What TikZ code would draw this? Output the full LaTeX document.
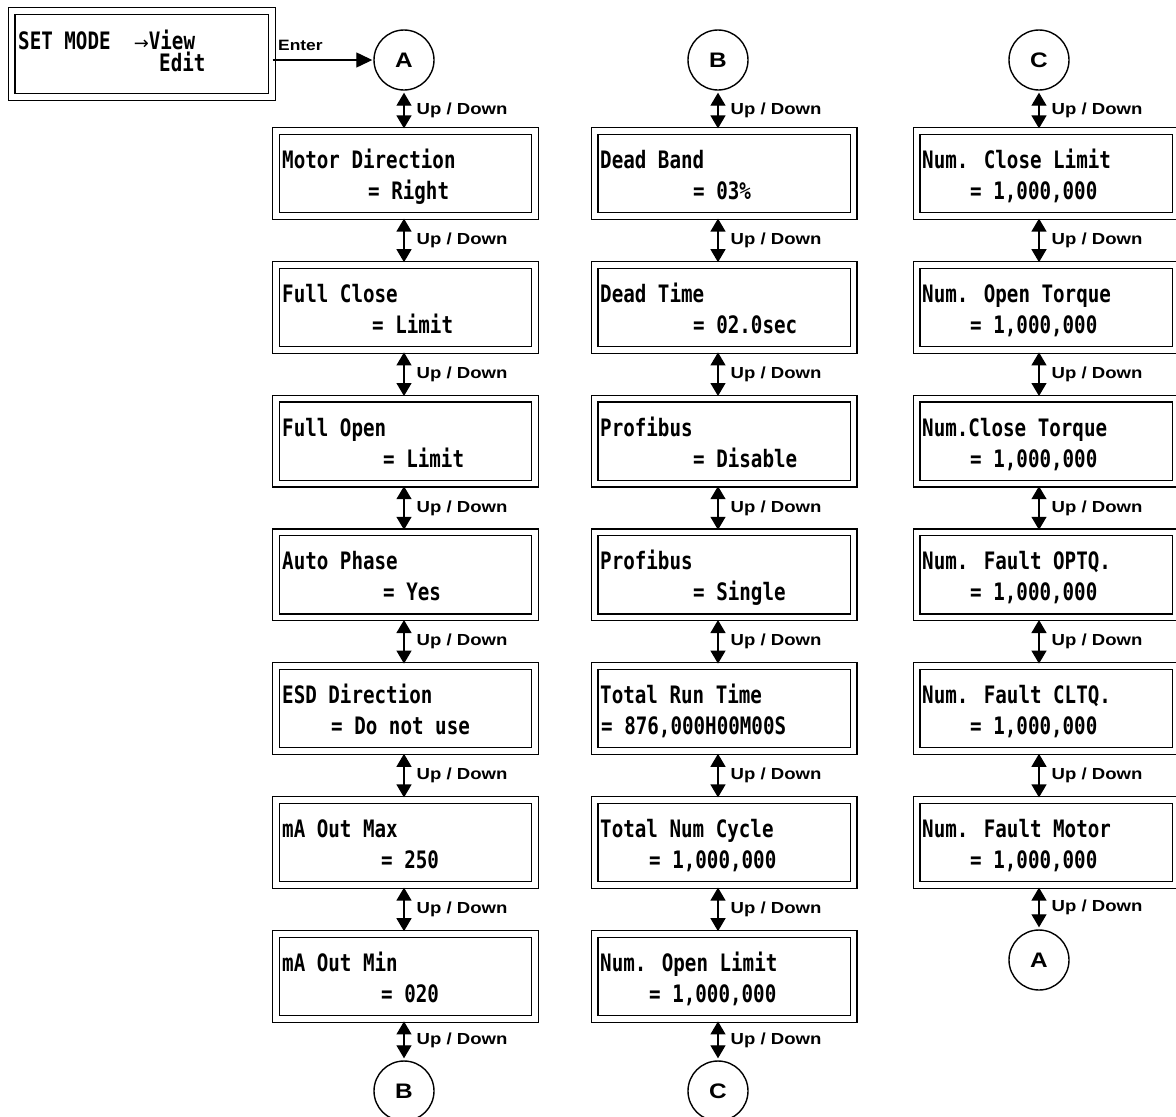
\documentclass[tikz,border=0pt]{standalone}
\usepackage{fontspec}
\usetikzlibrary{arrows.meta}
\newfontfamily\lcdfont[FakeStretch=0.80]{DejaVu Sans Mono}
\newfontfamily\arrfont{DejaVu Sans}
\newfontfamily\lblfont[FakeStretch=1.16]{Liberation Sans}
\tikzset{
  lcdbox/.style={draw, double, double distance=5.6pt, line width=1.2pt,
    minimum width=259pt, minimum height=85pt, inner sep=0pt},
  lcdtext/.style={anchor=base west, inner sep=0pt,
    font=\lcdfont\bfseries\fontsize{24}{24}\selectfont},
  circ/.style={draw, circle, line width=1.4pt, minimum size=60pt, inner sep=0pt,
    font=\lblfont\bfseries\fontsize{21}{21}\selectfont},
  udarrow/.style={line width=1.3pt,
    arrows={Triangle[width=15pt,length=13pt]-Triangle[width=15pt,length=13pt]},
    shorten <=2pt, shorten >=2pt},
  udlabel/.style={anchor=west, inner sep=0pt, xshift=12pt,
    font=\lblfont\bfseries\fontsize{16}{16}\selectfont},
}
\newcommand\lcdpanel[7]{%
  \node[lcdbox] (#1) at (#2,#3) {};
  \node[lcdtext] (#1-a) at (#4,#3-5) {#5};
  \node[lcdtext] (#1-b) at (#6,#3+26) {#7};
}
\begin{document}
\begin{tikzpicture}[x=1pt,y=-1pt]
\useasboundingbox[fill=white] (0,0) rectangle (1176,1117);

% axes of the columns
\coordinate (ax1) at (404,0);
\coordinate (ax2) at (718,0);
\coordinate (ax3) at (1039,0);

% SET MODE box
\node[lcdbox, minimum width=260.5pt, minimum height=86pt] (set) at (141.75,54) {};
\node[lcdtext] (set-a) at (18,49) {SET MODE\ \ {\arrfont\mdseries\fontsize{18}{18}\selectfont→}View};
\node[lcdtext] (set-b) at (159,71) {Edit};

% circles
\node[circ] (cA1) at (404,60) {A};
\node[circ] (cB1) at (404,1091) {B};
\node[circ] (cB2) at (718,60) {B};
\node[circ] (cC2) at (718,1091) {C};
\node[circ] (cC3) at (1039,60) {C};
\node[circ] (cA3) at (1039,960) {A};

% column 1
\lcdpanel{p11}{405.75}{173.5}{282}{Motor Direction}{368}{= Right}
\lcdpanel{p12}{405.75}{307.3}{282}{Full Close}{372}{= Limit}
\lcdpanel{p13}{405.75}{441.1}{282}{Full Open}{383}{= Limit}
\lcdpanel{p14}{405.75}{574.9}{282}{Auto Phase}{383}{= Yes}
\lcdpanel{p15}{405.75}{708.7}{282}{ESD Direction}{331}{= Do not use}
\lcdpanel{p16}{405.75}{842.5}{282}{mA Out Max}{381}{= 250}
\lcdpanel{p17}{405.75}{976.3}{282}{mA Out Min}{381}{= 020}

% column 2
\lcdpanel{p21}{724}{173.5}{600}{Dead Band}{693}{= 03\%}
\lcdpanel{p22}{724}{307.3}{600}{Dead Time}{693}{= 02.0sec}
\lcdpanel{p23}{724}{441.1}{600}{Profibus}{693}{= Disable}
\lcdpanel{p24}{724}{574.9}{600}{Profibus}{693}{= Single}
\lcdpanel{p25}{724}{708.7}{600}{Total Run Time}{601}{= 876,000H00M00S}
\lcdpanel{p26}{724}{842.5}{600}{Total Num Cycle}{649}{= 1,000,000}
\lcdpanel{p27}{724}{976.3}{600}{Num. Open Limit}{649}{= 1,000,000}

% column 3
\lcdpanel{p31}{1046}{173.5}{922}{Num. Close Limit}{970}{= 1,000,000}
\lcdpanel{p32}{1046}{307.3}{922}{Num. Open Torque}{970}{= 1,000,000}
\lcdpanel{p33}{1046}{441.1}{922}{Num.Close Torque}{970}{= 1,000,000}
\lcdpanel{p34}{1046}{574.9}{922}{Num. Fault OPTQ.}{970}{= 1,000,000}
\lcdpanel{p35}{1046}{708.7}{922}{Num. Fault CLTQ.}{970}{= 1,000,000}
\lcdpanel{p36}{1046}{842.5}{922}{Num. Fault Motor}{970}{= 1,000,000}

% Enter arrow
\draw[line width=1.3pt, -{Triangle[width=15pt,length=16pt]}, shorten >=1pt]
  (set.east |- cA1) -- (cA1.west);
\node[anchor=base west, inner sep=0pt, font=\lblfont\bfseries\fontsize{15}{15}\selectfont]
  (enter) at (278,50) {Enter};

% column 1 arrows
\draw[udarrow] (cA1.south) -- (cA1.south |- p11.north) node[midway, udlabel] (u10) {Up / Down};
\draw[udarrow] (p11.south -| ax1) -- (p12.north -| ax1) node[midway, udlabel] (u11) {Up / Down};
\draw[udarrow] (p12.south -| ax1) -- (p13.north -| ax1) node[midway, udlabel] (u12) {Up / Down};
\draw[udarrow] (p13.south -| ax1) -- (p14.north -| ax1) node[midway, udlabel] (u13) {Up / Down};
\draw[udarrow] (p14.south -| ax1) -- (p15.north -| ax1) node[midway, udlabel] (u14) {Up / Down};
\draw[udarrow] (p15.south -| ax1) -- (p16.north -| ax1) node[midway, udlabel] (u15) {Up / Down};
\draw[udarrow] (p16.south -| ax1) -- (p17.north -| ax1) node[midway, udlabel] (u16) {Up / Down};
\draw[udarrow] (p17.south -| ax1) -- (cB1.north) node[midway, udlabel] (u17) {Up / Down};

% column 2 arrows
\draw[udarrow] (cB2.south) -- (cB2.south |- p21.north) node[midway, udlabel] (u20) {Up / Down};
\draw[udarrow] (p21.south -| ax2) -- (p22.north -| ax2) node[midway, udlabel] (u21) {Up / Down};
\draw[udarrow] (p22.south -| ax2) -- (p23.north -| ax2) node[midway, udlabel] (u22) {Up / Down};
\draw[udarrow] (p23.south -| ax2) -- (p24.north -| ax2) node[midway, udlabel] (u23) {Up / Down};
\draw[udarrow] (p24.south -| ax2) -- (p25.north -| ax2) node[midway, udlabel] (u24) {Up / Down};
\draw[udarrow] (p25.south -| ax2) -- (p26.north -| ax2) node[midway, udlabel] (u25) {Up / Down};
\draw[udarrow] (p26.south -| ax2) -- (p27.north -| ax2) node[midway, udlabel] (u26) {Up / Down};
\draw[udarrow] (p27.south -| ax2) -- (cC2.north) node[midway, udlabel] (u27) {Up / Down};

% column 3 arrows
\draw[udarrow] (cC3.south) -- (cC3.south |- p31.north) node[midway, udlabel] (u30) {Up / Down};
\draw[udarrow] (p31.south -| ax3) -- (p32.north -| ax3) node[midway, udlabel] (u31) {Up / Down};
\draw[udarrow] (p32.south -| ax3) -- (p33.north -| ax3) node[midway, udlabel] (u32) {Up / Down};
\draw[udarrow] (p33.south -| ax3) -- (p34.north -| ax3) node[midway, udlabel] (u33) {Up / Down};
\draw[udarrow] (p34.south -| ax3) -- (p35.north -| ax3) node[midway, udlabel] (u34) {Up / Down};
\draw[udarrow] (p35.south -| ax3) -- (p36.north -| ax3) node[midway, udlabel] (u35) {Up / Down};
\draw[udarrow] (p36.south -| ax3) -- (cA3.north) node[midway, udlabel] (u36) {Up / Down};
\end{tikzpicture}
\end{document}
